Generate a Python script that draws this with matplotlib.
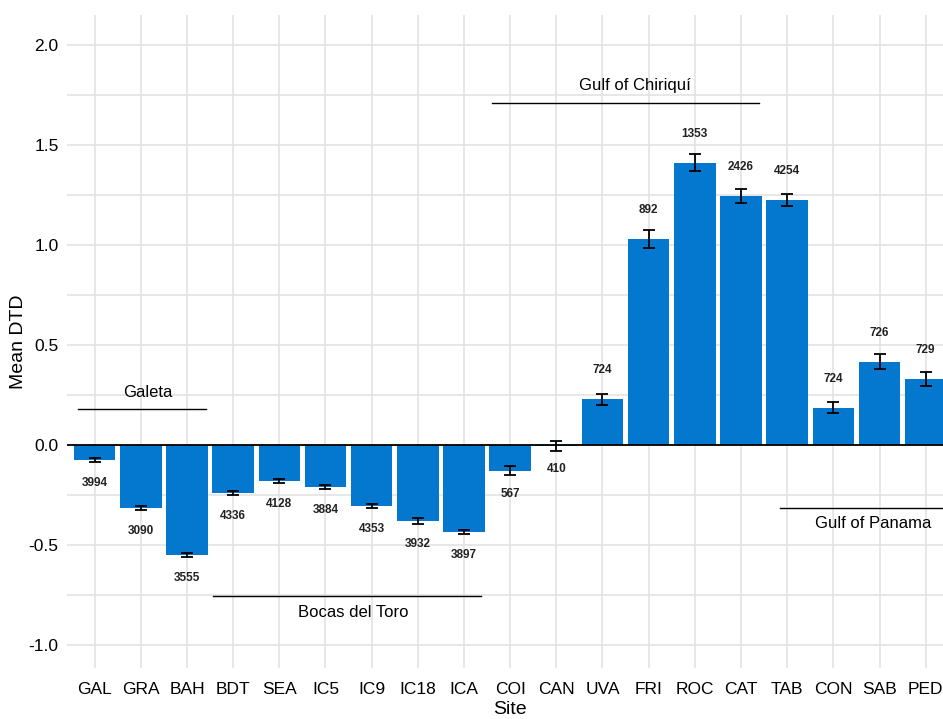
import matplotlib
matplotlib.use("Agg")
import matplotlib.pyplot as plt
import numpy as np

plt.rcParams['font.family'] = ['Liberation Sans', 'DejaVu Sans']

# datos
sitios = ['GAL', 'GRA', 'BAH', 'BDT', 'SEA', 'IC5', 'IC9', 'IC18', 'ICA', 'COI',
          'CAN', 'UVA', 'FRI', 'ROC', 'CAT', 'TAB', 'CON', 'SAB', 'PED']
media_dtd = [-0.075, -0.315, -0.548, -0.238, -0.182, -0.208, -0.305, -0.382, -0.433, -0.128,
             -0.005, 0.228, 1.03, 1.412, 1.247, 1.225, 0.187, 0.417, 0.33]
error = [0.01, 0.01, 0.01, 0.01, 0.01, 0.01, 0.01, 0.015, 0.01, 0.023,
         0.027, 0.026, 0.047, 0.042, 0.035, 0.028, 0.029, 0.037, 0.034]
n_obs = ['3994', '3090', '3555', '4336', '4128', '3884', '4353', '3932', '3897', '567',
         '410', '724', '892', '1353', '2426', '4254', '724', '726', '729']

# regiones: nombre, x inicio, x fin, y linea, x texto, y texto
regiones = [
    ('Galeta', -0.35, 2.42, 0.18, 1.15, 0.265),
    ('Bocas del Toro', 2.57, 8.36, -0.755, 5.6, -0.84),
    ('Gulf of Chiriquí', 8.6, 14.38, 1.71, 11.7, 1.80),
    ('Gulf of Panama', 14.84, 19.0, -0.315, 16.87, -0.395),
]

fig = plt.figure(figsize=(9.43, 7.19), dpi=100)
ax = fig.add_axes([0.071, 0.071, 0.94, 0.908])

x = np.arange(len(sitios))
ax.bar(x, media_dtd, width=0.9, color='#0477CE', zorder=2)
ax.errorbar(x, media_dtd, yerr=error, fmt='none', ecolor='black',
            elinewidth=1.3, capsize=4, capthick=1.3, zorder=3)
ax.axhline(0, color='black', linewidth=1.3, zorder=3)

# etiquetas con el numero de observaciones
for xi, v, n in zip(x, media_dtd, n_obs):
    if v >= 0:
        ax.text(xi, v + 0.145, n, ha='center', va='center', fontsize=8.5,
                fontweight='bold', color='#222222')
    else:
        ax.text(xi, v - 0.115, n, ha='center', va='center', fontsize=8.5,
                fontweight='bold', color='#222222')

for nombre, x0, x1, yl, xt, yt in regiones:
    ax.plot([x0, x1], [yl, yl], color='black', linewidth=1, clip_on=False, zorder=3)
    ax.text(xt, yt, nombre, ha='center', va='center', fontsize=12)

ax.set_xlim(-0.6, 18.6)
ax.set_ylim(-1.115, 2.15)
ax.set_xticks(x)
ax.set_xticklabels(sitios)
ax.set_yticks([-1.0, -0.5, 0.0, 0.5, 1.0, 1.5, 2.0])
ax.set_yticklabels(['-1.0', '-0.5', '0.0', '0.5', '1.0', '1.5', '2.0'])
ax.set_yticks(np.arange(-0.75, 2.0, 0.5), minor=True)
ax.grid(True, which='both', color='#e3e3e3', linewidth=1.2, zorder=0)
ax.grid(False, which='minor', axis='x')
ax.set_axisbelow(True)
ax.tick_params(axis='x', which='both', length=0, labelsize=12.5, pad=10)
ax.tick_params(axis='y', which='both', length=0, labelsize=12.5, pad=6)
for s in ax.spines.values():
    s.set_visible(False)

ax.set_xlabel('Site', fontsize=14, labelpad=3)
ax.set_ylabel('Mean DTD', fontsize=14, labelpad=1)

fig.savefig('out.png', dpi=100)
